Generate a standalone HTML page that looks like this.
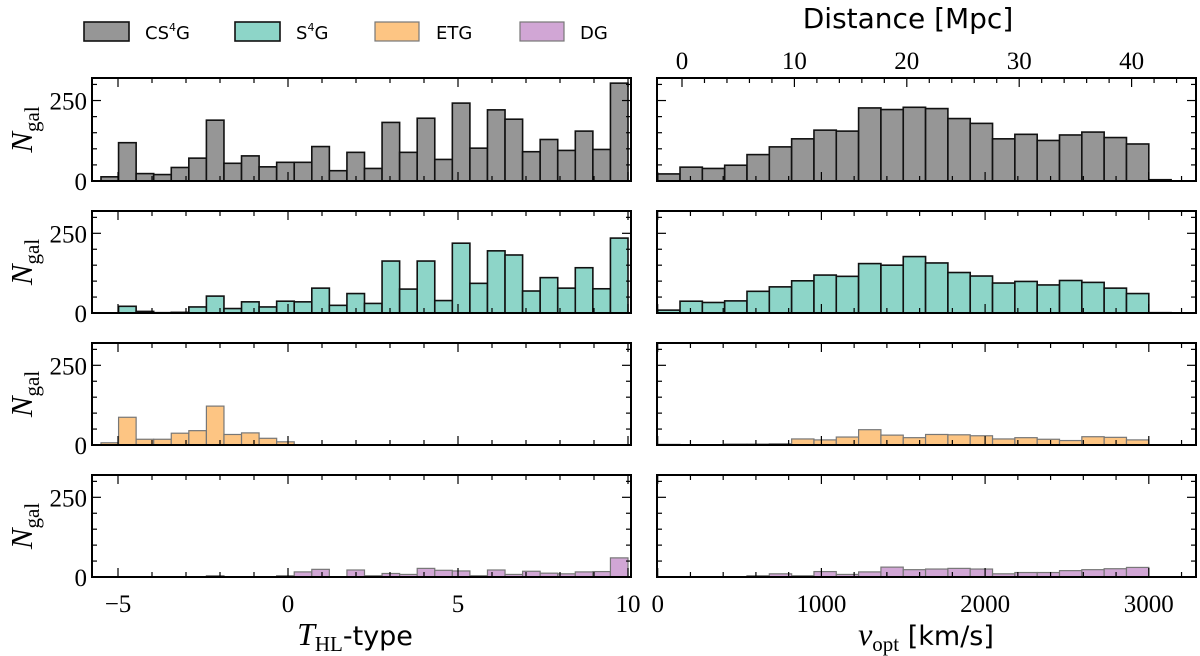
<!DOCTYPE html>
<html><head><meta charset="utf-8"><style>
body{margin:0;background:#fff;}
svg{display:block;font-family:"Liberation Serif",serif;}
</style></head><body>
<svg id="fig" width="1200" height="656" viewBox="0 0 1200 656"></svg>
<script>
const tBinStart=-5.5, tBinEnd=10, tNBins=30;
const vBinWidth=3000/22, vNBins=23;
const cs4gT=[13,119,23,20,42,71,189,55,78,44,58,58,107,32,89,39,182,89,195,67,242,102,221,192,91,129,95,155,98,304];
const s4gT=[0,21,5,1,2,19,53,14,35,19,37,35,78,24,61,30,163,75,163,39,219,93,195,182,69,111,78,142,76,235];
const etgT=[7,87,18,18,37,45,122,33,38,21,10,0,0,0,0,0,0,0,0,0,0,0,0,0,0,0,0,0,0,0];
const dgT=[0,0,0,0,0,0,4,1,0,0,4,16,24,1,22,4,11,8,27,21,19,4,22,8,18,12,10,16,17,60];
const cs4gV=[22,43,39,49,82,106,131,158,155,227,222,229,225,194,179,131,145,126,143,152,135,115,4];
const s4gV=[9,37,33,38,68,82,101,119,115,155,150,177,157,127,116,94,99,88,102,96,78,61,1];
const etgV=[2,0,0,3,3,4,19,16,25,48,31,23,33,32,29,19,23,18,14,26,24,16,0];
const dgV=[1,0,0,1,4,10,4,17,8,16,31,23,25,27,25,10,14,14,20,23,26,30,0];
const tTicks=[-5,0,5,10];
const vTicks=[0,1000,2000,3000];
const yTicks=[0,250];
const dTicks=[0,10,20,30,40];
const groups=[
 {name:'cs4g',t:cs4gT,v:cs4gV,fill:'#969696',stroke:'#111',sw:1.6},
 {name:'s4g',t:s4gT,v:s4gV,fill:'#8dd5c8',stroke:'#111',sw:1.6},
 {name:'etg',t:etgT,v:etgV,fill:'#fdc583',stroke:'#777',sw:1.2},
 {name:'dg',t:dgT,v:dgV,fill:'#d1a6d5',stroke:'#777',sw:1.2}
];
const NS='http://www.w3.org/2000/svg';
const svg=document.getElementById('fig');
function mk(tag,attrs,parent){const e=document.createElementNS(NS,tag);for(const k in attrs)e.setAttribute(k,attrs[k]);(parent||svg).appendChild(e);return e;}
const L={x0:92,x1:631}, R={x0:657,x1:1196};
const panY=[[78,181],[211,313],[343,445],[475,577]];
const tx=t=>288+34*t;
const vx=v=>657.7+0.1637*v;
const dx=d=>682+11.24*d;
const yMax=320;
function drawPanel(i,side){
 const [y0,y1]=panY[i];const g=groups[i];
 const yy=n=>y1-(y1-y0)*n/yMax;
 const grp=mk('g',{});
 
 
 const xs=side==='ttype'?L:R;
 if(side==='ttype'){
  const w=(tBinEnd-tBinStart)/tNBins;
  g.t.forEach((n,k)=>{if(n<=0)return;const a=tx(tBinStart+k*w),b=tx(tBinStart+(k+1)*w);
   const r=mk('rect',{x:a,y:yy(n),width:b-a,height:y1-yy(n),fill:g.fill,stroke:g.stroke,'stroke-width':g.sw},grp);
   
   });
 } else {
  g.v.forEach((n,k)=>{if(n<=0)return;const a=vx(k*vBinWidth),b=vx((k+1)*vBinWidth);
   const r=mk('rect',{x:a,y:yy(n),width:b-a,height:y1-yy(n),fill:g.fill,stroke:g.stroke,'stroke-width':g.sw},grp);
   
   });
 }
 const tk=(x1,y1_,x2,y2)=>mk('line',{x1:x1,y1:y1_,x2:x2,y2:y2,stroke:'#000','stroke-width':1.2},grp);
 for(let n=0;n<=300;n+=50){const Y=yy(n);const len=n%250===0?9:5;tk(xs.x0,Y,xs.x0+len,Y);tk(xs.x1,Y,xs.x1-len,Y);}
 if(side==='ttype'){
  for(let t=-5;t<=10;t++){const X=tx(t);const len=t%5===0?9:5;tk(X,y1,X,y1-len);tk(X,y0,X,y0+len);}
 } else {
  for(let v=0;v<=3200;v+=200){const X=vx(v);const len=v%1000===0?9:5;tk(X,y1,X,y1-len);if(i>0)tk(X,y0,X,y0+len);}
  if(i===0){for(let d=0;d<=44;d+=2){const X=dx(d);const len=d%10===0?9:5;tk(X,y0,X,y0+len);}}
 }
 mk('rect',{x:xs.x0,y:y0,width:xs.x1-xs.x0,height:y1-y0,fill:'none',stroke:'#000','stroke-width':2},grp);
 if(side==='ttype'){
  yTicks.forEach(n=>{const t=mk('text',{x:xs.x0-5,y:yy(n)+9,'font-size':25,'text-anchor':'end'},grp);t.textContent=n;
   
   });
  const lab=mk('text',{x:0,y:0,'font-size':31,'font-style':'italic',transform:`translate(32,${(y0+y1)/2}) rotate(-90)`,'text-anchor':'middle'},grp);
  lab.innerHTML='N<tspan font-size="21" font-style="normal" dy="7">gal</tspan>';
  
  
 }
}
for(let i=0;i<4;i++){drawPanel(i,'ttype');drawPanel(i,'vopt');}
tTicks.forEach(t=>{const e=mk('text',{x:tx(t),y:612,'font-size':25,'text-anchor':'middle'});e.textContent=t===-5?'\u22125':t;
 
 });
vTicks.forEach(v=>{const e=mk('text',{x:vx(v),y:612,'font-size':25,'text-anchor':'middle'});e.textContent=v;
 
 });
dTicks.forEach(d=>{const e=mk('text',{x:dx(d),y:69,'font-size':25,'text-anchor':'middle'});e.textContent=d;
 
 });
</script>
<div style="position:absolute;left:0;top:0;width:1200px;height:656px;pointer-events:none;">
<svg width="1200" height="656" style="position:absolute;left:0;top:0">
 <text x="355" y="645" font-size="32" text-anchor="middle"><tspan font-style="italic" font-family="Liberation Serif">T</tspan><tspan font-size="21" dy="6" font-family="Liberation Serif">HL</tspan><tspan dy="-6" font-family="DejaVu Sans" font-size="27">-type</tspan></text>
 <text x="926" y="645" font-size="32" text-anchor="middle"><tspan font-style="italic" font-family="Liberation Serif">v</tspan><tspan font-size="21" dy="6" font-family="Liberation Serif">opt</tspan><tspan dy="-6" font-family="DejaVu Sans" font-size="27"> [km/s]</tspan></text>
 <text x="908" y="28" font-size="28" text-anchor="middle" font-family="DejaVu Sans">Distance [Mpc]</text>
 <g font-family="DejaVu Sans" font-size="18">
  <g><rect x="84" y="22" width="45" height="19" fill="#969696" stroke="#111" stroke-width="1.6"/><text x="145" y="39">CS<tspan font-size="11" dy="-8">4</tspan><tspan dy="8">G</tspan></text></g>
  <g><rect x="235" y="22" width="45" height="19" fill="#8dd5c8" stroke="#111" stroke-width="1.6"/><text x="296" y="39">S<tspan font-size="11" dy="-8">4</tspan><tspan dy="8">G</tspan></text></g>
  <g><rect x="375" y="22" width="44" height="19" fill="#fdc583" stroke="#777" stroke-width="1.2"/><text x="436" y="39">ETG</text></g>
  <g><rect x="520" y="22" width="44" height="19" fill="#d1a6d5" stroke="#777" stroke-width="1.2"/><text x="580" y="39">DG</text></g>
 </g>
</svg>
</div>
</body></html>
